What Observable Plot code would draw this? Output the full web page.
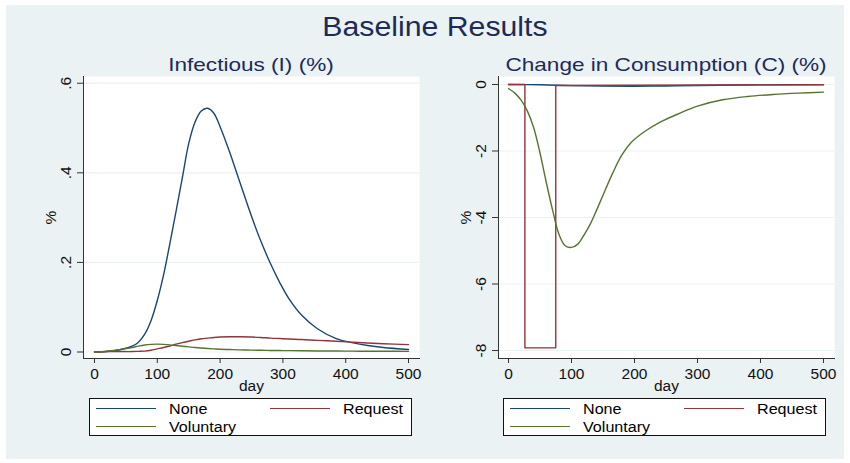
<!DOCTYPE html>
<html><head><meta charset="utf-8">
<script src="https://cdn.jsdelivr.net/npm/d3@7"></script>
<script src="https://cdn.jsdelivr.net/npm/@observablehq/plot@0.6"></script>
<style>
body{margin:0;background:#fff;font-family:"Liberation Sans",Arial,sans-serif;}
#root{position:relative;width:850px;height:463px;overflow:hidden;background:#fff;}
#bg{position:absolute;left:6px;top:5px;width:838px;height:454px;background:#eaf2f3;}
#root svg text{font-size:15.5px;font-family:"Liberation Sans",Arial,sans-serif;}
.txt{position:absolute;white-space:nowrap;line-height:1;}
.ttl{color:#1e2b57;text-align:center;}
.legbox{position:absolute;top:398px;height:38px;width:323px;background:#fff;border:1px solid #111;box-sizing:border-box;}
.sw{position:absolute;height:0;border-top:1.5px solid;}
.lt{color:#000;font-size:14px;transform:scaleX(1.15);transform-origin:left center;}
</style></head>
<body><div id="root"><div id="bg"></div></div>
<script>
// ---- data ----
const seriesNames = ["None", "Request", "Voluntary"];
const seriesColors = ["#1a476f", "#90353b", "#55752f"];

const infDays = [0,20,40,60,70,80,90,100,110,120,130,140,150,160,170,180,190,200,215,230,250,265,280,295,310,330,355,385,410,435,460,500];
const infNone = [0,0.001,0.005,0.013,0.022,0.04,0.07,0.115,0.172,0.242,0.315,0.39,0.465,0.513,0.538,0.544,0.533,0.503,0.447,0.385,0.303,0.247,0.198,0.155,0.118,0.082,0.052,0.030,0.021,0.0145,0.010,0.0056];
const infRequest = [0,0.001,0.001,0.001,0.0015,0.002,0.004,0.007,0.010,0.0135,0.0175,0.021,0.024,0.027,0.0295,0.031,0.0325,0.0335,0.034,0.034,0.0335,0.0325,0.031,0.030,0.029,0.028,0.026,0.024,0.022,0.020,0.0185,0.0165];
const infVoluntary = [0,0.002,0.005,0.010,0.013,0.0155,0.017,0.0175,0.017,0.016,0.0145,0.013,0.0115,0.010,0.0088,0.0078,0.007,0.0063,0.0055,0.0048,0.0042,0.0038,0.0035,0.0032,0.003,0.0027,0.0024,0.0021,0.0019,0.0017,0.0016,0.0015];

const conDaysNone = [0,50,100,150,200,250,300,400,500];
const conNone = [0,-0.01,-0.035,-0.05,-0.055,-0.045,-0.03,-0.012,-0.005];
const conDaysRequest = [0,26,26,75,75,200,350,500];
const conRequest = [0,0,-7.92,-7.92,-0.03,-0.025,-0.015,-0.01];
const conDaysVoluntary = [0,10,20,30,40,50,60,70,80,90,100,110,120,130,140,150,165,180,195,215,240,270,300,340,380,420,460,500];
const conVoluntary = [-0.12,-0.26,-0.47,-0.8,-1.3,-2.06,-2.95,-3.78,-4.5,-4.85,-4.9,-4.8,-4.52,-4.19,-3.77,-3.33,-2.68,-2.12,-1.74,-1.43,-1.14,-0.88,-0.65,-0.46,-0.36,-0.30,-0.26,-0.23];

const xTicks = [0,100,200,300,400,500];
const infTicks = [0,0.2,0.4,0.6];
const conTicks = [0,-2,-4,-6,-8];

const mainTitle = "Baseline Results";
const panelTitles = ["Infectious (I) (%)", "Change in Consumption (C) (%)"];
const xLabel = "day";
const yLabel = "%";

// ---- build ----
const root = document.getElementById("root");
function addText(txt, cls, css){
  const d = document.createElement("div");
  d.className = "txt " + cls;
  d.textContent = txt;
  Object.assign(d.style, css);
  root.appendChild(d);
  return d;
}
addText(mainTitle, "ttl", {left:"235px", width:"400px", top:"14px", fontSize:"27px", transform:"scaleX(1.12)"});
addText(panelTitles[0], "ttl", {left:"51px", width:"400px", top:"56px", fontSize:"18.5px", transform:"scaleX(1.22)"});
addText(panelTitles[1], "ttl", {left:"466px", width:"400px", top:"56px", fontSize:"18.5px", transform:"scaleX(1.22)"});

const rows = (days, vals) => days.map((d, i) => ({day: d, v: vals[i]}));
const fmtInf = d => d === 0 ? "0" : d.toFixed(1).replace(/^0/, "");
const fmtCon = d => d === 0 ? "0" : String(d);

function panel(opts){
  const {left, marginLeft, marginRight, xDomain, yDomain, yTicks, yFmt, series} = opts;
  const marks = [
    Plot.frame({fill: "white", stroke: "none"}),
    Plot.gridY(yTicks, {stroke: "#eaf2f3", strokeOpacity: 1, strokeWidth: 1.2}),
    Plot.axisY(yTicks, {tickFormat: yFmt, tickSize: 6, tickPadding: 7, tickRotate: -90, label: yLabel, labelAnchor: "center", labelOffset: 39, labelArrow: "none", stroke: "#333", fill: "#111"}),
    Plot.axisX(xTicks, {tickSize: 5, tickPadding: 4, label: xLabel, labelAnchor: "center", labelOffset: 32, labelArrow: "none", stroke: "#333", fill: "#111"}),
    Plot.frame({anchor: "left", stroke: "#333"}),
    Plot.frame({anchor: "bottom", stroke: "#333"})
  ];
  series.forEach((s, i) => {
    marks.push(Plot.line(rows(s.days, s.vals), {x: "day", y: "v", stroke: seriesColors[i], strokeWidth: 1.4, curve: s.curve}));
  });
  const svg = Plot.plot({
    width: 425, height: 355,
    marginTop: 36, marginBottom: 37, marginLeft, marginRight,
    style: {background: "transparent", fontSize: "15.5px", fontFamily: "'Liberation Sans', Arial, sans-serif", color: "#111"},
    x: {domain: xDomain},
    y: {domain: yDomain},
    marks
  });
  svg.style.position = "absolute";
  svg.style.left = left + "px";
  svg.style.top = "40px";
  root.appendChild(svg);
}

panel({left: 0, marginLeft: 83, marginRight: 6, xDomain: [-17.5, 517.5], yDomain: [-0.0145, 0.615], yTicks: infTicks, yFmt: fmtInf,
  series: [
    {days: infDays, vals: infNone, curve: "catmull-rom"},
    {days: infDays, vals: infRequest, curve: "catmull-rom"},
    {days: infDays, vals: infVoluntary, curve: "catmull-rom"}
  ]});
panel({left: 425, marginLeft: 73, marginRight: 16, xDomain: [-15.9, 517.5], yDomain: [-8.24, 0.24], yTicks: conTicks, yFmt: fmtCon,
  series: [
    {days: conDaysNone, vals: conNone, curve: "catmull-rom"},
    {days: conDaysRequest, vals: conRequest, curve: "linear"},
    {days: conDaysVoluntary, vals: conVoluntary, curve: "catmull-rom"}
  ]});

// legends
[89, 503].forEach(bx => {
  const box = document.createElement("div");
  box.className = "legbox";
  box.style.left = bx + "px";
  root.appendChild(box);
  const pos = [[7, 10, 80], [181, 10, 254], [7, 28, 80]]; // swatch x, swatch y, text x (relative to box)
  seriesNames.forEach((n, i) => {
    const [sx, sy, tx] = pos[i];
    const sw = document.createElement("div");
    sw.className = "sw";
    Object.assign(sw.style, {left: (bx + sx) + "px", top: (398 + sy) + "px", width: "60px", borderTopColor: seriesColors[i]});
    root.appendChild(sw);
    addText(n, "lt", {left: (bx + tx) + "px", top: (398 + sy - 6) + "px"});
  });
});
</script></body></html>
